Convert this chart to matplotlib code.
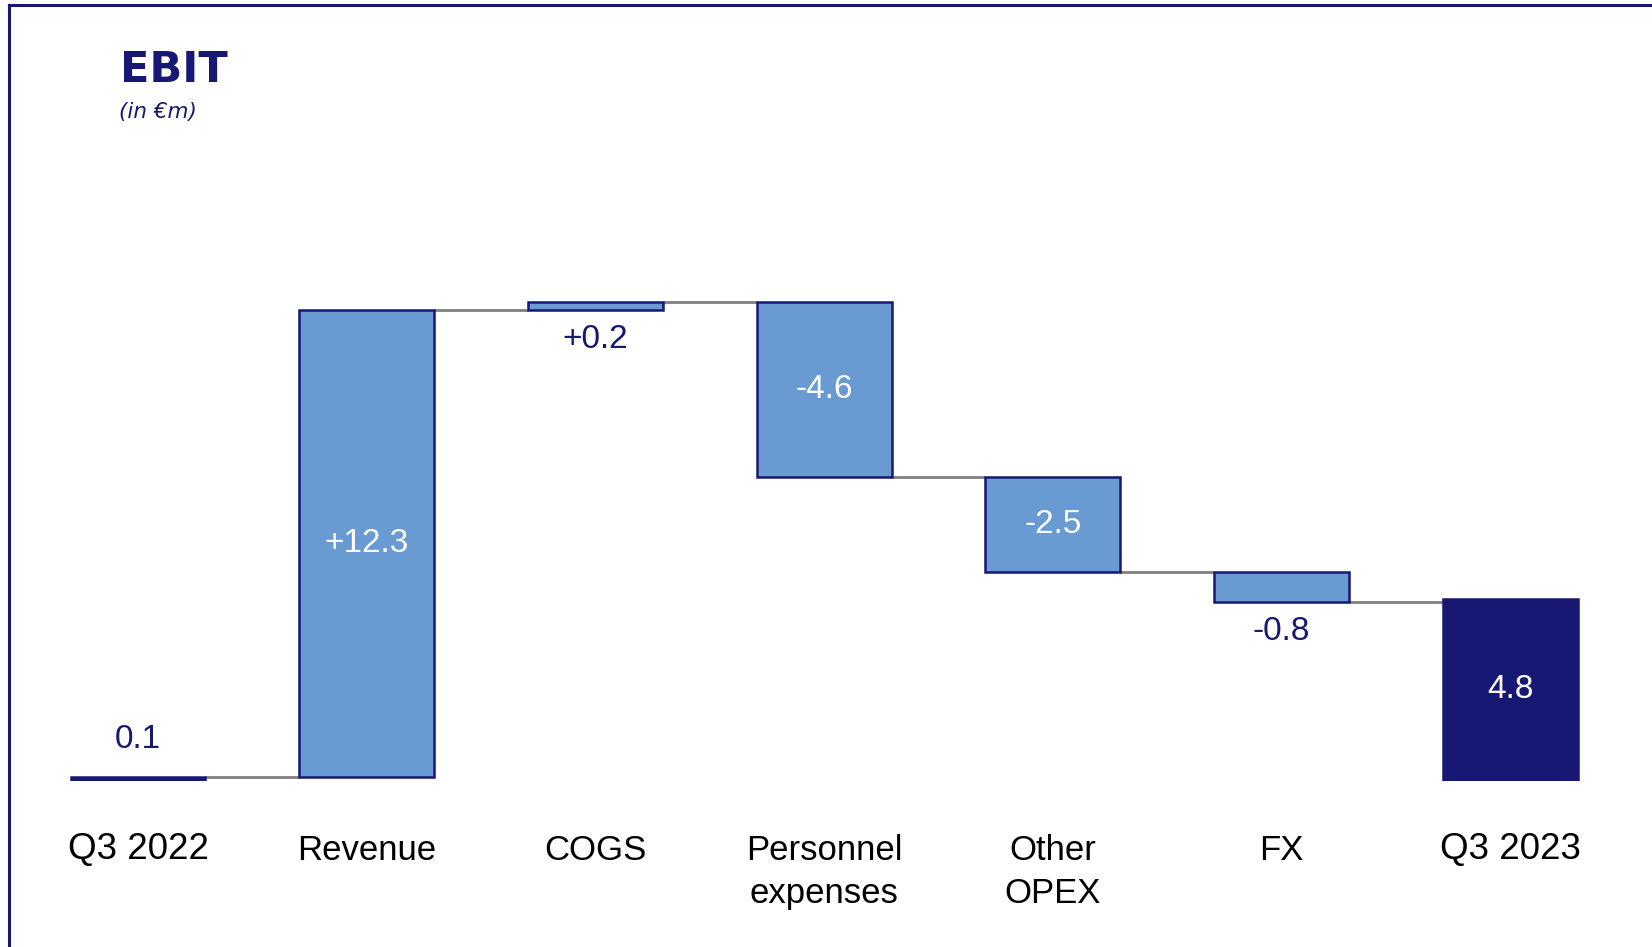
import numpy as np
import matplotlib
matplotlib.use("Agg")
import matplotlib.pyplot as plt
from matplotlib.lines import Line2D

# Daten (in EUR m)
categories = ["Q3 2022", "Revenue", "COGS", "Personnel\nexpenses", "Other\nOPEX", "FX", "Q3 2023"]
start_value = 0.1
deltas = [12.3, 0.2, -4.6, -2.5, -0.8]
end_value = 4.8

NAVY = "#161873"
LIGHT = "#699BD2"
GREY = "#808080"
FONT = ["Liberation Sans", "DejaVu Sans"]

W, H = 1652, 947
fig = plt.figure(figsize=(W / 100, H / 100), dpi=100)

# achse: nulllinie ca. 166 px ueber dem unteren rand, 38 px pro einheit
step = 228.7
x0 = 138
zero_px = 166
ppu = 38.0
ax = fig.add_axes([0, zero_px / H, 1, (H - zero_px) / H])
ax.set_xlim(-x0 / step, (W - x0) / step)
ax.set_ylim(0, (H - zero_px) / ppu)
ax.set_axis_off()

x = np.arange(len(categories))
width = 0.59

# Waterfall-Stufen
levels = np.concatenate([[start_value], start_value + np.cumsum(deltas)])
bottoms = [0] + [min(levels[i], levels[i + 1]) for i in range(len(deltas))] + [0]
heights = [start_value] + [abs(d) for d in deltas] + [end_value]
colors = [NAVY] + [LIGHT] * len(deltas) + [NAVY]

ax.bar(x, heights, width=width, bottom=bottoms, color=colors,
       edgecolor=NAVY, linewidth=1.8, zorder=3)

# Verbindungslinien
ends = list(levels)
for i in range(len(categories) - 1):
    ax.plot([x[i] + width / 2, x[i + 1] - width / 2], [ends[i], ends[i]],
            color=GREY, lw=2, zorder=2, solid_capstyle="butt")

# Beschriftungen
values = [start_value] + deltas + [end_value]
for i, v in enumerate(values):
    txt = f"{v:+.1f}" if 0 < i < len(values) - 1 else f"{v:.1f}"
    top = bottoms[i] + heights[i]
    if heights[i] > 1.5:
        ax.text(x[i], bottoms[i] + heights[i] / 2, txt, ha="center", va="center",
                color="white", fontsize=24, family=FONT, zorder=4)
    elif i == 0:
        ax.annotate(txt, (x[i], top), xytext=(0, 16), textcoords="offset points",
                    ha="center", va="bottom", color=NAVY, fontsize=24, family=FONT)
    else:
        ax.annotate(txt, (x[i], bottoms[i]), xytext=(0, -10), textcoords="offset points",
                    ha="center", va="top", color=NAVY, fontsize=24, family=FONT)

# Kategorien, Q3-Summen etwas groesser
for i, c in enumerate(categories):
    q = c.startswith("Q3")
    ax.annotate(c, (x[i], 0), xytext=(0, -37 if q else -38), textcoords="offset points",
                ha="center", va="top", color="black", fontsize=26.5 if q else 25,
                family=FONT, linespacing=1.38)

# Titel
fig.text(120 / W, 1 - 82 / H, "EBIT", fontsize=31, fontweight="bold",
         color=NAVY, family="DejaVu Sans", va="baseline")
fig.text(119 / W, 1 - 118 / H, "(in €m)", fontsize=15.5, style="italic",
         color=NAVY, family="DejaVu Sans", va="baseline")

# Rahmen oben und links
fig.add_artist(Line2D([8.5 / W, 1], [1 - 5.5 / H, 1 - 5.5 / H], color=NAVY, lw=2.2))
fig.add_artist(Line2D([8.5 / W, 8.5 / W], [0, 1 - 5.5 / H], color=NAVY, lw=2.2))

fig.savefig("out.png", dpi=100)
